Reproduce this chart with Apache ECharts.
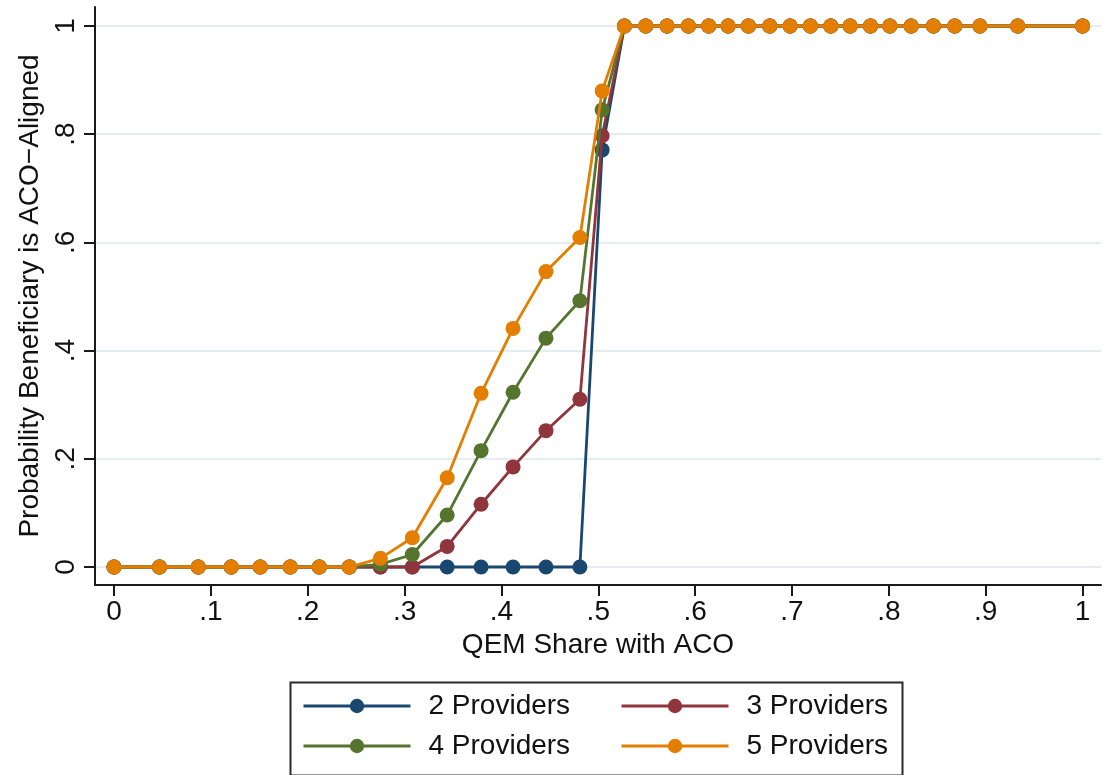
<!DOCTYPE html>
<html>
<head>
<meta charset="utf-8">
<script src="https://cdn.jsdelivr.net/npm/echarts@6/dist/echarts.min.js"></script>
<style>
  html, body { margin: 0; padding: 0; background: #ffffff; }
  #chart { width: 1106px; height: 775px; }
</style>
</head>
<body>
<div id="chart"></div>
<script>
// QEM share with ACO (x) shared by every provider-count series
const xShare = [
  0, 0.047, 0.087, 0.121, 0.151, 0.182, 0.212, 0.243, 0.275, 0.308,
  0.344, 0.379, 0.412, 0.446, 0.481, 0.504,
  0.527, 0.549, 0.571, 0.593, 0.614, 0.634, 0.655, 0.677, 0.698, 0.719,
  0.740, 0.760, 0.781, 0.801, 0.823, 0.846, 0.868, 0.894, 0.933, 1.0
];

// Probability the beneficiary is ACO-aligned
const ones = [1, 1, 1, 1, 1, 1, 1, 1, 1, 1, 1, 1, 1, 1, 1, 1, 1, 1, 1, 1];
const provider2 = [0, 0, 0, 0, 0, 0, 0, 0, 0, 0, 0, 0, 0, 0, 0, 0.771].concat(ones);
const provider3 = [0, 0, 0, 0, 0, 0, 0, 0, 0, 0, 0.038, 0.116, 0.185, 0.252, 0.310, 0.797].concat(ones);
const provider4 = [0, 0, 0, 0, 0, 0, 0, 0, 0.005, 0.023, 0.096, 0.215, 0.323, 0.423, 0.492, 0.845].concat(ones);
const provider5 = [0, 0, 0, 0, 0, 0, 0, 0, 0.016, 0.054, 0.165, 0.321, 0.441, 0.546, 0.609, 0.880].concat(ones);

const seriesNames = ['2 Providers', '3 Providers', '4 Providers', '5 Providers'];
const seriesValues = [provider2, provider3, provider4, provider5];
const seriesColors = ['#1a476f', '#90353b', '#55752f', '#e37e00'];

// Axis ticks and their labels
const xTickValues = [0, 0.1, 0.2, 0.3, 0.4, 0.5, 0.6, 0.7, 0.8, 0.9, 1];
const xTickLabels = ['0', '.1', '.2', '.3', '.4', '.5', '.6', '.7', '.8', '.9', '1'];
const yTickValues = [0, 0.2, 0.4, 0.6, 0.8, 1];
const yTickLabels = ['0', '.2', '.4', '.6', '.8', '1'];

const xTitle = 'QEM Share with ACO';
const yTitle = 'Probability Beneficiary is ACO\u2212Aligned';

const FONT = '"Liberation Sans", Arial, Helvetica, sans-serif';
const INK = '#111111';

function labelFor(values, labels) {
  return function (v) {
    for (let i = 0; i < values.length; i++) {
      if (Math.abs(values[i] - v) < 1e-9) return labels[i];
    }
    return '';
  };
}

const chart = echarts.init(document.getElementById('chart'), null, { renderer: 'canvas' });

const series = seriesNames.map(function (name, k) {
  return {
    name: name,
    type: 'line',
    data: xShare.map(function (x, i) { return [x, seriesValues[k][i]]; }),
    symbol: 'circle',
    symbolSize: 15,
    showSymbol: true,
    lineStyle: { width: 2.8, color: seriesColors[k] },
    itemStyle: { color: seriesColors[k] },
    emphasis: { disabled: true },
    z: 2 + k
  };
});

// One legend block per entry, laid out as a 2 x 2 key
const legendSlots = [
  { left: 302, top: 692 },
  { left: 620, top: 692 },
  { left: 302, top: 732 },
  { left: 620, top: 732 }
];
const legends = seriesNames.map(function (name, k) {
  return {
    data: [name],
    left: legendSlots[k].left,
    top: legendSlots[k].top,
    padding: 0,
    itemWidth: 107,
    itemHeight: 18,
    selectedMode: false,
    lineStyle: { width: 3 },
    textStyle: { fontFamily: FONT, fontSize: 28, color: INK, padding: [0, 0, 0, 13] }
  };
});

const option = {
  animation: false,
  backgroundColor: '#ffffff',
  color: seriesColors,
  grid: { left: 95, right: 5, top: 7, bottom: 190, containLabel: false },
  xAxis: {
    type: 'value',
    min: -0.0196,
    max: 1.019,
    name: xTitle,
    nameLocation: 'middle',
    nameGap: 46,
    nameTextStyle: { fontFamily: FONT, fontSize: 28, color: INK },
    axisLine: { show: true, onZero: false, lineStyle: { color: '#1a1a1a', width: 2 } },
    axisTick: { show: true, length: 11, customValues: xTickValues, lineStyle: { color: '#1a1a1a', width: 2 } },
    axisLabel: {
      customValues: xTickValues,
      formatter: labelFor(xTickValues, xTickLabels),
      margin: 13,
      fontFamily: FONT, fontSize: 28, color: INK
    },
    splitLine: { show: false }
  },
  yAxis: {
    type: 'value',
    min: -0.0333,
    max: 1.0351,
    name: yTitle,
    nameLocation: 'middle',
    nameGap: 48,
    nameTextStyle: { fontFamily: FONT, fontSize: 28, color: INK },
    axisLine: { show: true, onZero: false, lineStyle: { color: '#1a1a1a', width: 2 } },
    axisTick: { show: true, length: 11, customValues: yTickValues, lineStyle: { color: '#1a1a1a', width: 2 } },
    axisLabel: {
      customValues: yTickValues,
      formatter: labelFor(yTickValues, yTickLabels),
      rotate: 90,
      margin: 15,
      fontFamily: FONT, fontSize: 28, color: INK
    },
    splitLine: { show: true, lineStyle: { color: '#e4edf0', width: 2 } }
  },
  legend: legends,
  graphic: [
    {
      type: 'rect',
      left: 288, top: 680,
      shape: { width: 612, height: 93 },
      style: { fill: 'none', stroke: '#2a2a2a', lineWidth: 2 },
      silent: true
    }
  ],
  series: series
};

chart.setOption(option);
</script>
</body>
</html>
